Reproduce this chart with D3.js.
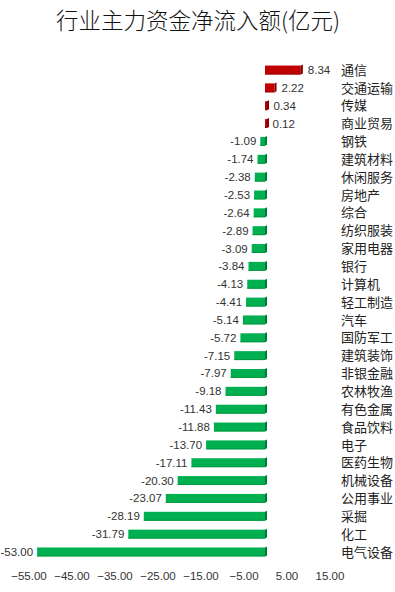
<!DOCTYPE html>
<html>
<head>
<meta charset="utf-8">
<script src="https://cdn.jsdelivr.net/npm/d3@7"></script>
<style>
  body { margin: 0; background: #fff; }
</style>
</head>
<body>
<svg id="mainFrame"></svg>
<script>
const categories = ["通信", "交通运输", "传媒", "商业贸易", "钢铁", "建筑材料", "休闲服务", "房地产", "综合",
    "纺织服装", "家用电器", "银行", "计算机", "轻工制造", "汽车", "国防军工", "建筑装饰", "非银金融",
    "农林牧渔", "有色金属", "食品饮料", "电子", "医药生物", "机械设备", "公用事业", "采掘", "化工", "电气设备"];
const values = [8.34, 2.22, 0.34, 0.12, -1.09, -1.74, -2.38, -2.53, -2.64, -2.89, -3.09, -3.84, -4.13, -4.41,
    -5.14, -5.72, -7.15, -7.97, -9.18, -11.43, -11.88, -13.70, -17.11, -20.30, -23.07, -28.19, -31.79, -53.00];
const ticks = [-55, -45, -35, -25, -15, -5, 5, 15];

const width = 395, height = 592;
const data = categories.map((c, i) => ({name: c, value: values[i]}));

const x = d3.scaleLinear().domain([-55, 15]).range([28.5, 329.5]);
const step = 17.85;
const y = d3.scaleBand()
    .domain(categories)
    .range([70 - step / 2, 70 + step * (categories.length - 0.5)])
    .paddingInner(0.5).paddingOuter(0.25);

const svg = d3.select("#mainFrame")
    .attr("width", width)
    .attr("height", height)
    .attr("font-family", "'Noto Sans CJK SC', sans-serif");

svg.append("text")
    .attr("x", 198)
    .attr("y", 29)
    .attr("text-anchor", "middle")
    .attr("font-size", 22.5)
    .attr("font-weight", 300)
    .attr("fill", "#111")
    .text("行业主力资金净流入额(亿元)");

const bar = svg.selectAll("g.bar")
    .data(data)
    .join("g")
    .attr("class", "bar")
    .attr("transform", d => `translate(0,${y(d.name)})`);

const bh = y.bandwidth();
const depth = 2;
const minW = 2;

// front face
bar.append("rect")
    .attr("x", d => Math.min(x(d.value), x(0)))
    .attr("y", 0)
    .attr("width", d => Math.max(Math.abs(x(d.value) - x(0)), minW))
    .attr("height", bh)
    .attr("fill", d => d.value >= 0 ? "#c00000" : "#00b050");

// right side (3d)
bar.append("path")
    .attr("d", d => {
        const r = Math.min(x(d.value), x(0)) + Math.max(Math.abs(x(d.value) - x(0)), minW);
        return `M${r},0 L${r + depth},${-1} L${r + depth},${bh - 1} L${r},${bh} Z`;
    })
    .attr("fill", d => d.value >= 0 ? "#800000" : "#007a36");

// bottom edge
bar.append("rect")
    .attr("x", d => Math.min(x(d.value), x(0)))
    .attr("y", bh - 1)
    .attr("width", d => Math.max(Math.abs(x(d.value) - x(0)), minW))
    .attr("height", 1)
    .attr("fill", d => d.value >= 0 ? "#9a0000" : "#00963f");

// value labels
bar.append("text")
    .attr("x", d => d.value >= 0 ? x(d.value) + 7 : x(d.value) - 4)
    .attr("y", bh / 2)
    .attr("dy", "0.35em")
    .attr("text-anchor", d => d.value >= 0 ? "start" : "end")
    .attr("font-size", 11.5)
    .attr("font-family", "'Liberation Sans', sans-serif")
    .attr("fill", "#333")
    .text(d => d.value.toFixed(2));

// category labels
bar.append("text")
    .attr("x", 341)
    .attr("y", bh / 2)
    .attr("dy", "0.36em")
    .attr("font-size", 13)
    .attr("fill", "#222")
    .text(d => d.name);

// x axis labels
const axis = d3.axisBottom(x).tickValues(ticks).tickFormat(d3.format(".2f")).tickSize(0).tickPadding(0);
const gx = svg.append("g")
    .attr("transform", "translate(0,572)")
    .call(axis);
gx.select(".domain").remove();
gx.selectAll("text")
    .attr("font-size", 11.5)
    .attr("font-family", "'Liberation Sans', sans-serif")
    .attr("fill", "#333");
</script>
</body>
</html>
